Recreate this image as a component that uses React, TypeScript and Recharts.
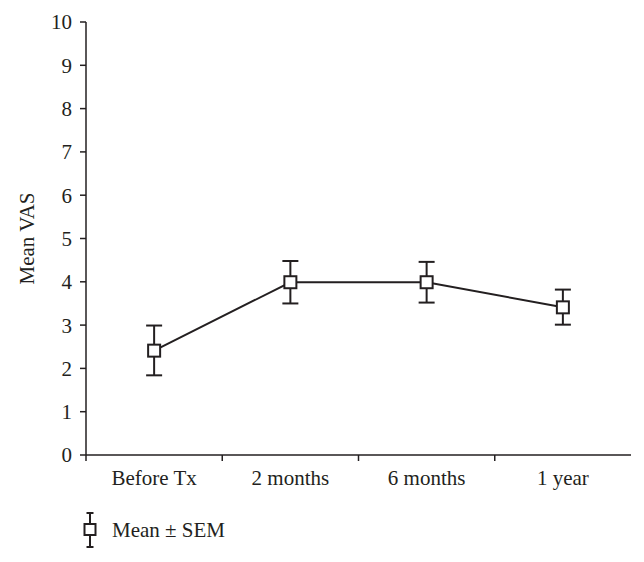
import React from 'react';
import { LineChart, Line, XAxis, YAxis, ErrorBar } from 'recharts';

const categories = ['Before Tx', '2 months', '6 months', '1 year'];
const means = [2.41, 3.99, 3.99, 3.41];
const upperBounds = [2.99, 4.48, 4.46, 3.82];
const lowerBounds = [1.84, 3.5, 3.52, 3.01];
const yTicks = [0, 1, 2, 3, 4, 5, 6, 7, 8, 9, 10];

const FONT = '"Liberation Serif", "DejaVu Serif", serif';
const INK = '#231f20';

// x sits in the middle of each category band; band edges are the integer ticks
const data = categories.map((name, i) => ({
  name,
  x: i + 0.5,
  mean: means[i],
  sem: [means[i] - lowerBounds[i], upperBounds[i] - means[i]],
}));

const xTicks = [0, 0.5, 1, 1.5, 2, 2.5, 3, 3.5];

const CategoryTick = ({ x, y, payload }: any) => {
  const v = payload.value;
  if (Number.isInteger(v)) {
    return <line x1={x} y1={y} x2={x} y2={y + 6} stroke={INK} strokeWidth={1.5} />;
  }
  return (
    <text x={x} y={y + 30} textAnchor="middle" fontFamily={FONT} fontSize={21} fill={INK}>
      {categories[Math.floor(v)]}
    </text>
  );
};

const SquareDot = ({ cx, cy }: any) => {
  if (cx == null || cy == null) return null;
  return <rect x={cx - 6} y={cy - 6} width={12} height={12} fill="#fff" stroke={INK} strokeWidth={2} />;
};

export default function App() {
  return (
    <div style={{ position: 'absolute', left: 0, top: 0, width: 644, height: 562, background: '#fff' }}>
      <LineChart width={644} height={562} data={data} margin={{ top: 22, right: 13, bottom: 57, left: 0 }}>
        <XAxis
          dataKey="x"
          type="number"
          domain={[0, 4]}
          ticks={xTicks}
          interval={0}
          tickLine={false}
          tickSize={0}
          tickMargin={0}
          height={50}
          axisLine={{ stroke: INK, strokeWidth: 1.5 }}
          tick={<CategoryTick />}
        />
        <YAxis
          type="number"
          domain={[0, 10]}
          ticks={yTicks}
          interval={0}
          width={86}
          tickSize={6}
          tickMargin={8}
          axisLine={{ stroke: INK, strokeWidth: 1.5 }}
          tickLine={{ stroke: INK, strokeWidth: 1.5 }}
          tick={{ fontFamily: FONT, fontSize: 21, fill: INK }}
          label={{
            value: 'Mean VAS',
            angle: -90,
            position: 'insideLeft',
            offset: 27,
            style: { textAnchor: 'middle', fontFamily: FONT, fontSize: 21, fill: INK },
          }}
        />
        <Line
          dataKey="mean"
          stroke={INK}
          strokeWidth={2}
          dot={<SquareDot />}
          activeDot={false}
          isAnimationActive={false}
        >
          <ErrorBar dataKey="sem" direction="y" width={8} stroke={INK} strokeWidth={2} />
        </Line>
      </LineChart>
      <div style={{ position: 'absolute', left: 82, top: 511, display: 'flex', alignItems: 'center' }}>
        <svg width={16} height={38}>
          <line x1={8} y1={2} x2={8} y2={36} stroke={INK} strokeWidth={2} />
          <line x1={4.5} y1={2} x2={11.5} y2={2} stroke={INK} strokeWidth={2} />
          <line x1={4.5} y1={36} x2={11.5} y2={36} stroke={INK} strokeWidth={2} />
          <rect x={2.5} y={13} width={11} height={11} fill="#fff" stroke={INK} strokeWidth={2} />
        </svg>
        <span style={{ marginLeft: 14, fontFamily: FONT, fontSize: 21, color: INK }}>Mean ± SEM</span>
      </div>
    </div>
  );
}
